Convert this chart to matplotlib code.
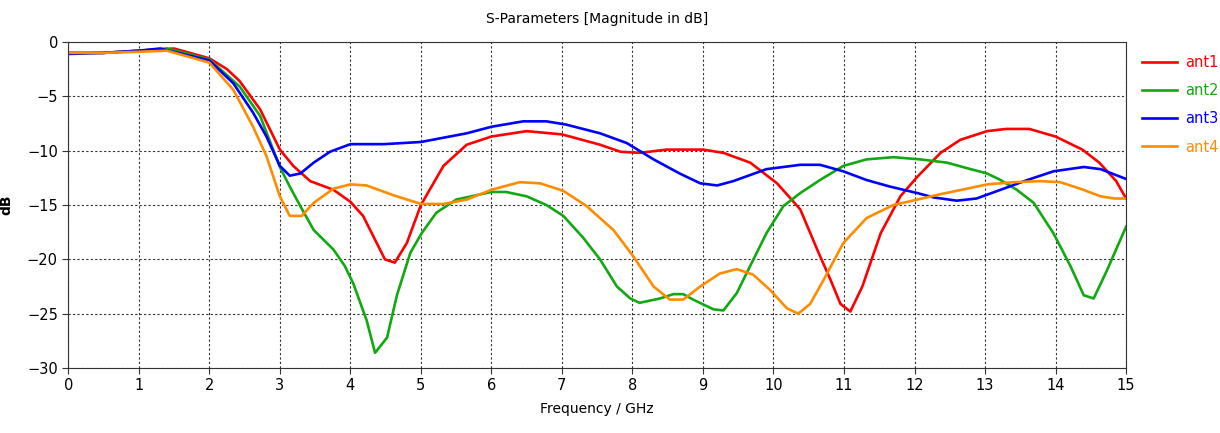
import matplotlib.pyplot as plt

# S-parameter magnitude of four antennas, sampled from the simulation export
f_ant1 = [0, 0.5, 1.0, 1.5, 2.0, 2.25, 2.43, 2.72, 3.0, 3.19, 3.43, 3.76, 4.0, 4.18, 4.49, 4.63,
          4.8, 5.0, 5.32, 5.65, 6.0, 6.5, 7.0, 7.54, 7.83, 8.1, 8.49, 9.0, 9.29, 9.67, 10.05,
          10.38, 10.62, 10.81, 10.95, 11.09, 11.26, 11.52, 11.8, 12.04, 12.37, 12.65, 13.03,
          13.3, 13.63, 14.0, 14.38, 14.62, 14.86, 15.0]
s_ant1 = [-1.0, -1.0, -0.8, -0.6, -1.5, -2.5, -3.6, -6.2, -9.9, -11.4, -12.8, -13.6, -14.7, -16.0,
          -20.0, -20.3, -18.5, -15.0, -11.4, -9.45, -8.7, -8.2, -8.5, -9.45, -10.1, -10.2, -9.9,
          -9.9, -10.2, -11.1, -13.0, -15.4, -19.1, -21.9, -24.1, -24.8, -22.5, -17.6, -14.2,
          -12.4, -10.2, -9.0, -8.2, -8.0, -8.0, -8.7, -9.9, -11.1, -12.8, -14.4]

f_ant2 = [0, 0.5, 1.0, 1.4, 2.0, 2.43, 2.72, 3.0, 3.14, 3.29, 3.48, 3.76, 3.92, 4.04, 4.23, 4.35,
          4.52, 4.66, 4.85, 5.01, 5.22, 5.5, 6.0, 6.21, 6.5, 6.78, 7.02, 7.3, 7.54, 7.78, 7.97,
          8.1, 8.39, 8.58, 8.72, 8.86, 9.15, 9.29, 9.48, 9.67, 9.9, 10.14, 10.38, 10.66, 10.99,
          11.32, 11.7, 12.08, 12.46, 12.74, 13.03, 13.22, 13.45, 13.69, 13.97, 14.21, 14.4,
          14.54, 14.73, 15.0]
s_ant2 = [-1.0, -1.0, -0.8, -0.6, -1.6, -4.1, -6.8, -11.5, -13.3, -15.1, -17.3, -19.1, -20.6,
          -22.2, -25.6, -28.6, -27.2, -23.3, -19.4, -17.6, -15.7, -14.5, -13.8, -13.8, -14.2,
          -15.0, -16.0, -18.0, -20.0, -22.5, -23.6, -24.0, -23.6, -23.2, -23.2, -23.7, -24.6,
          -24.7, -23.1, -20.6, -17.6, -15.1, -13.9, -12.7, -11.4, -10.8, -10.6, -10.8, -11.1,
          -11.6, -12.1, -12.7, -13.6, -14.8, -17.6, -20.6, -23.3, -23.6, -21.0, -17.0]

f_ant3 = [0, 0.5, 1.0, 1.3, 2.0, 2.34, 2.62, 2.81, 3.0, 3.14, 3.29, 3.48, 3.71, 4.0, 4.47, 5.0,
          5.65, 6.0, 6.45, 6.78, 7.06, 7.54, 7.92, 8.3, 8.67, 8.96, 9.2, 9.43, 9.9, 10.38, 10.66,
          10.99, 11.32, 11.65, 12.04, 12.27, 12.6, 12.88, 13.22, 13.6, 13.97, 14.4, 14.64, 15.0]
s_ant3 = [-1.1, -1.0, -0.8, -0.6, -1.7, -3.8, -6.5, -8.7, -11.4, -12.3, -12.1, -11.1, -10.1,
          -9.4, -9.4, -9.2, -8.4, -7.8, -7.3, -7.3, -7.6, -8.4, -9.3, -10.8, -12.1, -13.0, -13.2,
          -12.8, -11.7, -11.3, -11.3, -11.9, -12.7, -13.3, -13.9, -14.3, -14.6, -14.4, -13.6,
          -12.7, -11.9, -11.5, -11.7, -12.6]

f_ant4 = [0, 0.5, 1.0, 1.4, 2.0, 2.34, 2.62, 2.81, 3.0, 3.14, 3.31, 3.48, 3.76, 4.0, 4.23, 4.61,
          5.0, 5.32, 5.65, 6.0, 6.4, 6.69, 7.02, 7.35, 7.73, 8.01, 8.3, 8.53, 8.72, 8.96, 9.24,
          9.48, 9.71, 9.95, 10.19, 10.35, 10.52, 10.71, 10.99, 11.32, 11.7, 12.04, 12.37, 12.74,
          13.03, 13.41, 13.78, 14.07, 14.35, 14.64, 14.83, 15.0]
s_ant4 = [-1.0, -1.0, -0.9, -0.8, -1.9, -4.4, -7.8, -10.5, -14.2, -16.0, -16.0, -14.8, -13.5,
          -13.1, -13.2, -14.1, -14.9, -14.9, -14.5, -13.6, -12.9, -13.0, -13.7, -15.1, -17.3,
          -19.7, -22.5, -23.7, -23.7, -22.5, -21.3, -20.9, -21.4, -22.8, -24.5, -25.0, -24.1,
          -21.9, -18.5, -16.2, -15.0, -14.5, -14.0, -13.5, -13.1, -12.9, -12.8, -12.9, -13.5,
          -14.2, -14.4, -14.4]

labels = ['ant1', 'ant2', 'ant3', 'ant4']
colors = ['#ff0000', '#12a812', '#0000ff', '#ff8c00']

fig = plt.figure(figsize=(12.2, 4.33), dpi=100)
ax = fig.add_axes([0.056, 0.150, 0.867, 0.753])

series = [(f_ant1, s_ant1), (f_ant2, s_ant2), (f_ant3, s_ant3), (f_ant4, s_ant4)]
for (f, s), name, c in zip(series, labels, colors):
    ax.plot(f, s, color=c, linewidth=1.9, label=name)

ax.set_xlim(0, 15)
ax.set_ylim(-30, 0)
ax.set_xticks(range(0, 16))
ax.set_yticks(range(-30, 1, 5))
ax.grid(True, color='#333333', linestyle=(0, (2, 2)), linewidth=0.8)
ax.tick_params(labelsize=10.5, length=4, color='#333333')
for sp in ax.spines.values():
    sp.set_color('#333333')

ax.set_title('S-Parameters [Magnitude in dB]', fontsize=10, pad=14)
ax.set_xlabel('Frequency / GHz', fontsize=10, labelpad=6)
ax.set_ylabel('dB', fontsize=10, fontweight='bold', labelpad=10)

ax.legend(loc='upper left', bbox_to_anchor=(1.003, 1.0), frameon=False, fontsize=10.5,
          labelcolor='linecolor', handlelength=2.4, handletextpad=0.5, labelspacing=0.9)

fig.savefig('out.png', dpi=100)
